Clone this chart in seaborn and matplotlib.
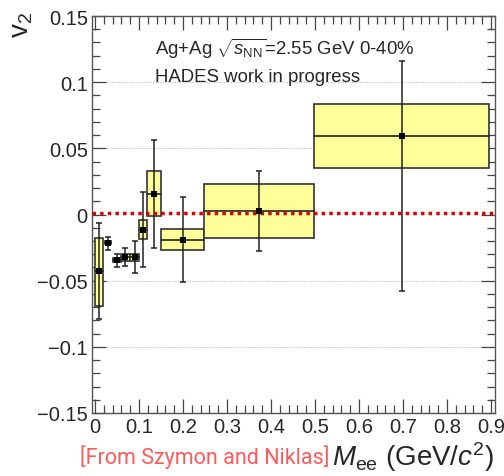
import matplotlib
matplotlib.use("Agg")
import matplotlib.pyplot as plt
import seaborn as sns
import numpy as np
import pandas as pd
from matplotlib.patches import Rectangle
from matplotlib.ticker import MultipleLocator, FixedLocator

# ---------------- data ----------------
mass = [0.009, 0.029, 0.050, 0.069, 0.090, 0.109, 0.134, 0.199, 0.373, 0.697]
v2 = [-0.043, -0.0213, -0.0346, -0.0321, -0.032, -0.0117, 0.0155, -0.019, 0.0029, 0.0591]
stat_low = [-0.079, -0.0268, -0.0394, -0.0387, -0.044, -0.040, -0.0253, -0.0508, -0.0274, -0.058]
stat_high = [-0.0067, -0.0168, -0.030, -0.0253, -0.0198, 0.0168, 0.0563, 0.013, 0.0329, 0.116]
bin_low = [0.0, 0.022, 0.040, 0.059, 0.079, 0.099, 0.119, 0.149, 0.248, 0.498]
bin_high = [0.018, 0.036, 0.058, 0.079, 0.099, 0.119, 0.149, 0.248, 0.498, 0.896]
sys_low = [-0.069, -0.0222, -0.036, -0.035, -0.035, -0.0185, -0.0014, -0.0268, -0.0175, 0.0351]
sys_high = [-0.018, -0.0204, -0.033, -0.030, -0.030, -0.0044, 0.0329, -0.0112, 0.0228, 0.0835]
mean_level = 0.0015
xticks = [0, 0.1, 0.2, 0.3, 0.4, 0.5, 0.6, 0.7, 0.8, 0.9]
xticklabels = ["0", "0.1", "0.2", "0.3", "0.4", "0.5", "0.6", "0.7", "0.8", "0.9"]
yticks = [-0.15, -0.1, -0.05, 0, 0.05, 0.1, 0.15]
yticklabels = ["\u22120.15", "\u22120.1", "\u22120.05", "0", "0.05", "0.1", "0.15"]

df = pd.DataFrame({"mass": mass, "v2": v2})

sns.set_theme(style="ticks")
plt.rcParams["font.family"] = ["Liberation Sans", "DejaVu Sans"]
plt.rcParams["mathtext.fontset"] = "custom"
plt.rcParams["mathtext.rm"] = "Liberation Sans"
plt.rcParams["mathtext.it"] = "Liberation Sans:italic"
plt.rcParams["mathtext.bf"] = "Liberation Sans:bold"

fig = plt.figure(figsize=(5.04, 4.77), dpi=100)
ax = fig.add_axes([92 / 504, 1 - 414 / 477, 403 / 504, 397 / 477])

# horizontal dotted grid
for yt in yticks:
    if yt != 0:
        ax.axhline(yt, color="#b0b0b0", lw=0.7, ls=(0, (1, 1.5)), zorder=0)

# systematic boxes
for bl, bh, sl, sh, y in zip(bin_low, bin_high, sys_low, sys_high, v2):
    ax.add_patch(Rectangle((bl, sl), bh - bl, sh - sl, facecolor="#ffff99",
                           edgecolor="#333333", lw=1.2, zorder=2))
    ax.plot([bl, bh], [y, y], color="#222222", lw=1.2, zorder=3)

# statistical error bars
yerr = [np.array(v2) - np.array(stat_low), np.array(stat_high) - np.array(v2)]
ax.errorbar(mass, v2, yerr=yerr, fmt="none", ecolor="#222222", elinewidth=1.1,
            capsize=2, capthick=1.1, zorder=4)

# mean line
ax.axhline(mean_level, color="#dd0000", lw=2.5, ls=(0, (1, 1.2)), zorder=5)

sns.scatterplot(data=df, x="mass", y="v2", marker="s", s=16, color="black",
                edgecolor="black", linewidth=0, ax=ax, zorder=6)

ax.set_xlim(-0.007, 0.909)
ax.set_ylim(-0.15, 0.15)
ax.xaxis.set_major_locator(FixedLocator(xticks))
ax.set_xticklabels(xticklabels)
ax.xaxis.set_minor_locator(MultipleLocator(0.02))
ax.yaxis.set_major_locator(FixedLocator(yticks))
ax.set_yticklabels(yticklabels)
ax.yaxis.set_minor_locator(MultipleLocator(0.01))
ax.tick_params(which="both", direction="in", top=True, right=True,
               color="#444444", width=0.9, labelsize=14.5, pad=3)
ax.tick_params(which="major", length=10)
ax.tick_params(which="minor", length=5.5)
for sp in ax.spines.values():
    sp.set_color("#555555")
    sp.set_linewidth(1.0)
ax.set_xlabel("")
ax.set_ylabel("")

# annotations
ax.text(0.156, 0.904, r"Ag+Ag $\sqrt{s_{\mathrm{NN}}}$=2.55 GeV 0-40%",
        transform=ax.transAxes, fontsize=13.4, ha="left", va="baseline")
ax.text(0.156, 0.836, "HADES work in progress", transform=ax.transAxes,
        fontsize=13.4, ha="left", va="baseline")

# axis titles
fig.text(22 / 504, 1 - 12 / 477, r"v$_2$", rotation=90, ha="center", va="top",
         fontsize=20)
fig.text(494 / 504, 1 - 457 / 477, r"$\mathit{M}_{\mathrm{ee}}$ (GeV/$\mathit{c}^{2}$)",
         ha="right", va="center", fontsize=20)
fig.text(330 / 504, 1 - 457 / 477, "[From Szymon and Niklas]", ha="right",
         va="center", fontsize=15.5, color="#ff5a5a", family=["Roboto", "DejaVu Sans"])

fig.savefig("out.png", dpi=100)
